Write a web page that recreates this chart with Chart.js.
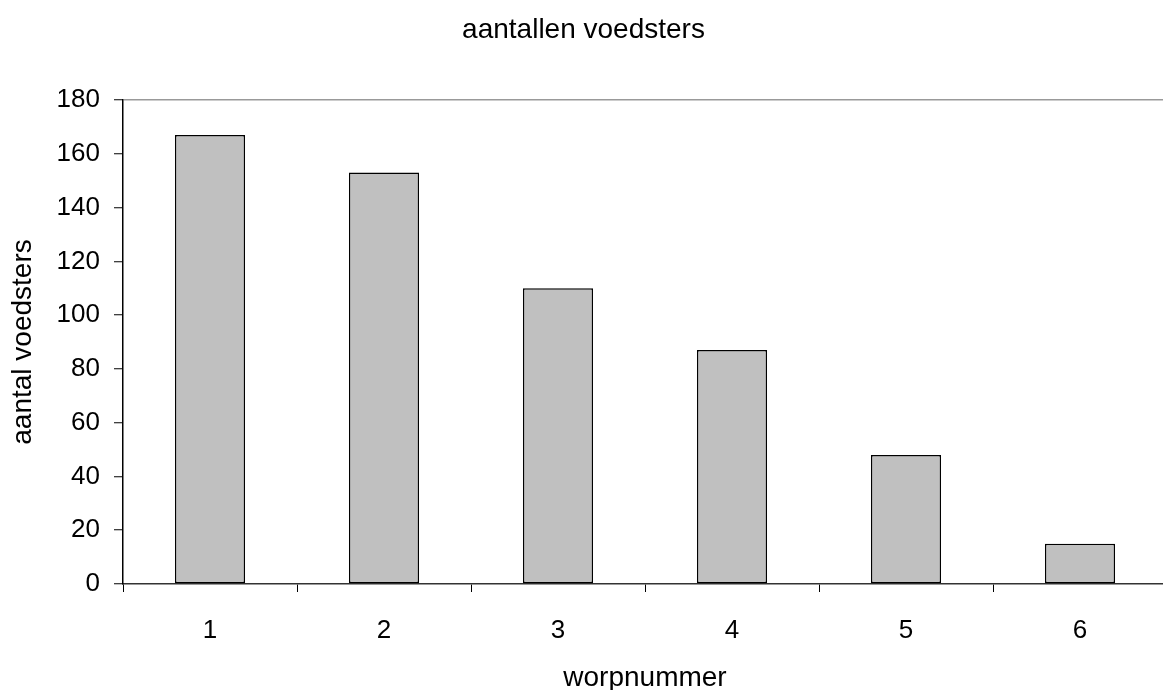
<!DOCTYPE html>
<html>
<head>
<meta charset="utf-8">
<script src="https://cdn.jsdelivr.net/npm/chart.js@4/dist/chart.umd.min.js"></script>
<style>
  html, body { margin: 0; padding: 0; background: #ffffff; overflow: hidden; }
  #wrap { width: 1163px; height: 690px; overflow: hidden; }
</style>
</head>
<body>
<div id="wrap"><canvas id="c" width="1167" height="690"></canvas></div>
<script>
const chartTitle = 'aantallen voedsters';
const xAxisTitle = 'worpnummer';
const yAxisTitle = 'aantal voedsters';
const categories = ['1', '2', '3', '4', '5', '6'];
const voedsters = [167, 153, 110, 87, 48, 15];
const yMin = 0;
const yMax = 180;
const yStep = 20;

const FONT = "'Liberation Sans', Arial, sans-serif";

new Chart(document.getElementById('c'), {
  type: 'bar',
  data: {
    labels: categories,
    datasets: [{
      data: voedsters,
      backgroundColor: '#c0c0c0',
      borderColor: '#000000',
      borderWidth: 1.5,
      borderSkipped: false,
      categoryPercentage: 1.0,
      barPercentage: 0.403
    }]
  },
  options: {
    responsive: false,
    animation: false,
    layout: { padding: 0 },
    plugins: {
      legend: { display: false },
      tooltip: { enabled: false },
      title: {
        display: true,
        text: chartTitle,
        color: '#000000',
        font: { family: FONT, size: 28, weight: 'normal', lineHeight: 1.2 },
        padding: { top: 13.5, bottom: 52.9 }
      }
    },
    scales: {
      x: {
        offset: true,
        grid: {
          display: true,
          offset: true,
          drawOnChartArea: false,
          drawTicks: true,
          tickLength: 8,
          tickColor: '#000000',
          tickWidth: 1
        },
        border: { display: true, color: '#333333', width: 1.5 },
        ticks: {
          color: '#000000',
          font: { family: FONT, size: 26 },
          padding: 23,
          maxRotation: 0
        },
        title: {
          display: true,
          text: xAxisTitle,
          color: '#000000',
          font: { family: FONT, size: 28, lineHeight: 0.86 },
          padding: { top: 0, bottom: 0 }
        },
        afterFit(scale) { scale.height = 106; }
      },
      y: {
        min: yMin,
        max: yMax,
        ticks: {
          stepSize: yStep,
          color: '#000000',
          font: { family: FONT, size: 26 },
          padding: 14
        },
        grid: {
          drawOnChartArea: true,
          drawTicks: true,
          tickLength: 9,
          tickColor: '#000000',
          tickWidth: 1,
          lineWidth: 1.5,
          color: (ctx) => (ctx.tick && ctx.tick.value === yMax) ? '#999999' : 'rgba(0,0,0,0)'
        },
        border: { display: true, color: '#000000', width: 1.5 },
        title: {
          display: true,
          text: yAxisTitle,
          color: '#000000',
          font: { family: FONT, size: 28, lineHeight: 1 },
          padding: { top: 9, bottom: 0 }
        },
        afterFit(scale) { scale.width = 123; }
      }
    }
  }
});
</script>
</body>
</html>
